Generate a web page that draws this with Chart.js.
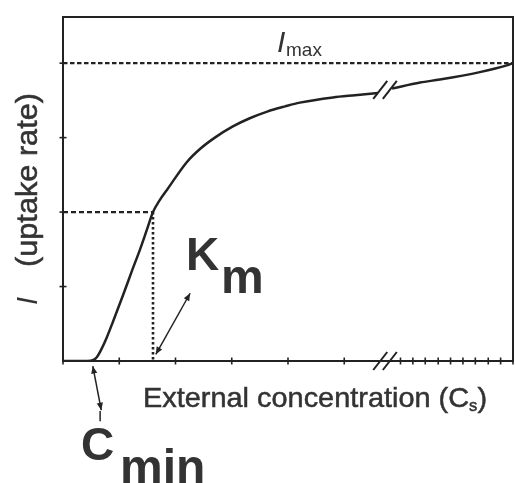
<!DOCTYPE html>
<html>
<head>
<meta charset="utf-8">
<script src="https://cdn.jsdelivr.net/npm/chart.js@4/dist/chart.umd.min.js"></script>
<style>
  body { margin: 0; background: #fff; }
  canvas { display: block; }
</style>
</head>
<body>
<canvas id="ctx" width="516" height="483"></canvas>
<script>
"use strict";

// uptake curve (null = axis break gap)
const concentration = [0, 0.44, 0.53, 0.60, 0.69, 0.78, 0.89, 1.07, 1.24, 1.37, 1.49, 1.60, 1.72, 1.85, 2.20, 2.44, 2.70, 3.02, 3.32, 3.63, 3.95, 4.21, 4.80, 5.19, 5.60, 5.70, 5.85, 6.35, 6.70, 7.41, 7.89, 8.0];
const uptake = [0, 0, 0.01, 0.05, 0.17, 0.32, 0.53, 0.89, 1.24, 1.50, 1.76, 2.0, 2.16, 2.30, 2.67, 2.85, 3.00, 3.15, 3.26, 3.35, 3.42, 3.47, 3.54, 3.57, 3.60, null, 3.66, 3.74, 3.78, 3.88, 3.97, 4.0];

const imax = 4;
const km = 1.6;
const cmin = 0.53;
const xMajorTicks = [0, 1, 2, 3, 4, 5];
const xMinorTicks = [6, 6.22, 6.44, 6.67, 6.89, 7.11, 7.33, 7.56, 7.78, 8];
const yTicks = [1, 2, 3, 4];
const breakMarks = [5.64, 5.81];

const ink = "#222";
const textInk = "#333";

function arrowHead(c, x1, y1, x2, y2, size) {
  let a = Math.atan2(y2 - y1, x2 - x1);
  c.beginPath();
  c.moveTo(x2, y2);
  c.lineTo(x2 - size * Math.cos(a - 0.4), y2 - size * Math.sin(a - 0.4));
  c.lineTo(x2 - size * Math.cos(a + 0.4), y2 - size * Math.sin(a + 0.4));
  c.closePath();
  c.fill();
}

function doubleArrow(c, x1, y1, x2, y2) {
  c.beginPath();
  c.moveTo(x1, y1);
  c.lineTo(x2, y2);
  c.stroke();
  arrowHead(c, x2, y2, x1, y1, 8);
  arrowHead(c, x1, y1, x2, y2, 8);
}

// fit a run of [text, font, dy] parts into a given width
function drawParts(c, parts, x, y, width) {
  let total = 0;
  parts.forEach((p) => { c.font = p[1]; total += c.measureText(p[0]).width; });
  c.save();
  c.translate(x, y);
  c.scale(width / total, 1);
  let cx = 0;
  parts.forEach((p) => {
    c.font = p[1];
    c.fillText(p[0], cx, p[2]);
    c.strokeText(p[0], cx, p[2]);
    cx += c.measureText(p[0]).width;
  });
  c.restore();
}

const decorations = {
  id: "decorations",
  afterDatasetsDraw(chart) {
    const c = chart.ctx;
    const xs = chart.scales.x, ys = chart.scales.y;
    const area = chart.chartArea;
    const bottom = ys.getPixelForValue(0);
    const left = xs.getPixelForValue(0);
    c.save();
    c.strokeStyle = ink;
    c.fillStyle = ink;
    c.lineWidth = 2;
    c.setLineDash([]);
    c.strokeRect(area.left, area.top, area.right - area.left, area.bottom - area.top);

    c.lineWidth = 1.6;
    xMajorTicks.concat(xMinorTicks).forEach((v) => {
      let px = xs.getPixelForValue(v);
      c.beginPath(); c.moveTo(px, bottom - 3.5); c.lineTo(px, bottom + 3.5); c.stroke();
    });
    yTicks.forEach((v) => {
      let py = ys.getPixelForValue(v);
      c.beginPath(); c.moveTo(left - 3.5, py); c.lineTo(left + 3.5, py); c.stroke();
    });

    // break marks on the axis and on the curve
    c.lineWidth = 2;
    breakMarks.forEach((v) => {
      let px = xs.getPixelForValue(v);
      [bottom, ys.getPixelForValue(3.64)].forEach((py) => {
        c.beginPath(); c.moveTo(px - 7, py + 9); c.lineTo(px + 7, py - 9); c.stroke();
      });
    });

    // arrows
    c.lineWidth = 1.5;
    doubleArrow(c, xs.getPixelForValue(2.26), ys.getPixelForValue(0.91), xs.getPixelForValue(1.65), ys.getPixelForValue(0.09));
    doubleArrow(c, xs.getPixelForValue(cmin), ys.getPixelForValue(-0.07), xs.getPixelForValue(0.68), ys.getPixelForValue(-0.66));
    c.beginPath();
    c.moveTo(xs.getPixelForValue(0.66), ys.getPixelForValue(-0.67));
    c.lineTo(xs.getPixelForValue(0.66), ys.getPixelForValue(-0.81));
    c.stroke();

    // labels
    c.fillStyle = textInk;
    c.strokeStyle = textInk;
    c.lineWidth = 0.5;
    c.textBaseline = "alphabetic";
    c.textAlign = "left";
    c.font = "italic 30px 'Liberation Sans', Arial, sans-serif";
    c.fillText("I", 277, 52);
    c.font = "19px 'Liberation Sans', Arial, sans-serif";
    c.fillText("max", 286, 56);

    c.font = "bold 46px 'Liberation Sans', Arial, sans-serif";
    c.fillText("K", 186, 270);
    c.font = "bold 48px 'Liberation Sans', Arial, sans-serif";
    c.fillText("m", 221, 293);

    c.font = "bold 46px 'Liberation Sans', Arial, sans-serif";
    c.fillText("C", 81, 460);
    c.font = "bold 48px 'Liberation Sans', Arial, sans-serif";
    c.fillText("min", 120, 483);

    drawParts(c, [
      ["External concentration (C", "28px 'Liberation Sans', Arial, sans-serif", 0],
      ["s", "16px 'Liberation Sans', Arial, sans-serif", 4],
      [")", "28px 'Liberation Sans', Arial, sans-serif", 0],
    ], 143, 407, 344);

    c.save();
    c.translate(37, 307);
    c.rotate(-Math.PI / 2);
    c.font = "italic 29px 'Liberation Sans', Arial, sans-serif";
    c.fillText("I", 2, 0);
    drawParts(c, [["(uptake rate)", "29px 'Liberation Sans', Arial, sans-serif", 0]], 40, 0, 174);
    c.restore();
    c.restore();
  },
};

const curve = concentration.map((v, i) => ({ x: v, y: uptake[i] }));

new Chart(document.getElementById("ctx").getContext("2d"), {
  type: "line",
  data: {
    datasets: [
      {
        data: [{ x: 0, y: imax }, { x: 8, y: imax }],
        borderColor: ink, borderWidth: 2.2, borderDash: [4.5, 2.5], pointRadius: 0,
      },
      {
        data: [{ x: 0, y: imax / 2 }, { x: km, y: imax / 2 }],
        borderColor: ink, borderWidth: 2.2, borderDash: [5, 3], pointRadius: 0,
      },
      {
        data: [{ x: km, y: imax / 2 }, { x: km, y: 0 }],
        borderColor: ink, borderWidth: 2.6, borderDash: [2.5, 2.5], pointRadius: 0,
      },
      {
        data: curve,
        borderColor: ink, borderWidth: 2.5, pointRadius: 0,
        cubicInterpolationMode: "monotone", spanGaps: false,
      },
    ],
  },
  options: {
    responsive: false,
    animation: false,
    layout: { padding: { left: 63, right: 3, top: 17, bottom: 122 } },
    plugins: { legend: { display: false }, tooltip: { enabled: false } },
    scales: {
      x: { type: "linear", min: 0, max: 8, display: false },
      y: { type: "linear", min: 0, max: 4.62, display: false },
    },
  },
  plugins: [decorations],
});
</script>
</body>
</html>
